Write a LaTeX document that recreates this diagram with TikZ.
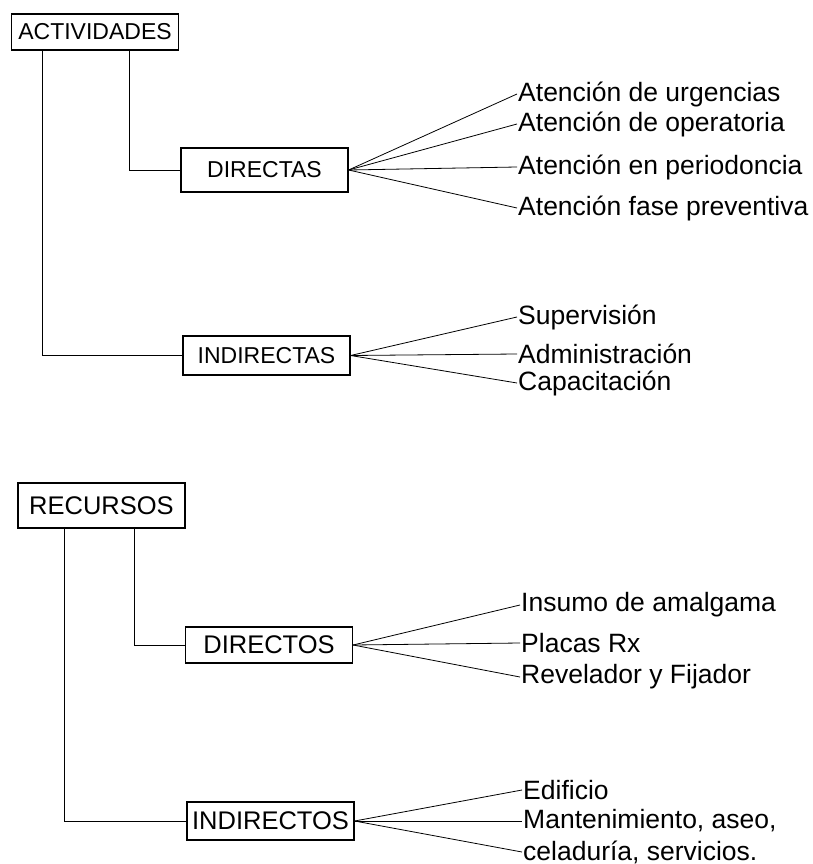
\documentclass[tikz,border=0pt]{standalone}
\usepackage{fontspec}
\setmainfont{Liberation Sans}
\usetikzlibrary{positioning}

\begin{document}
\begin{tikzpicture}[x=1pt,y=-1pt,
    caja/.style={draw,line width=1.2pt,minimum width=167pt,minimum height=40pt,inner sep=2pt,font=\fontsize{23}{27}\selectfont},
    cajag/.style={caja,font=\fontsize{25.5}{30}\selectfont},
    item/.style={anchor=west,inner sep=1pt,font=\fontsize{26.5}{31}\selectfont},
    rama/.style={line width=.8pt}]
    \useasboundingbox (0,0) rectangle (812,864);

    % actividades
    \node[caja,minimum height=36pt] (act) at (95,32) {ACTIVIDADES};
    \node[caja,minimum height=44pt] (dir) at (264.5,170) {DIRECTAS};
    \node[caja,minimum height=39pt] (indir) at (266.5,355.5) {INDIRECTAS};

    \node[item] (urg) at (517,94) {Atención de urgencias};
    \node[item] (oper) at (517,124) {Atención de operatoria};
    \node[item] (perio) at (517,167) {Atención en periodoncia};
    \node[item] (prev) at (517,208) {Atención fase preventiva};
    \node[item] (sup) at (517,317) {Supervisión};
    \node[item] (adm) at (517,354) {Administración};
    \node[item] (cap) at (517,383) {Capacitación};

    \draw[rama] ([xshift=31pt]act.south west) |- (indir.west);
    \draw[rama] ([xshift=118pt]act.south west) |- (dir.west);

    \draw[rama] (dir.east) -- (urg.west);
    \draw[rama] (dir.east) -- (oper.west);
    \draw[rama] (dir.east) -- (perio.west);
    \draw[rama] (dir.east) -- (prev.west);
    \draw[rama] (indir.east) -- (sup.west);
    \draw[rama] (indir.east) -- (adm.west);
    \draw[rama] (indir.east) -- (cap.west);

    % recursos
    \node[cajag,minimum height=45pt] (rec) at (101.5,505.5) {RECURSOS};
    \node[cajag,minimum height=36pt] (dto) at (269,645) {DIRECTOS};
    \node[cajag,minimum height=38pt] (indto) at (270.5,821) {INDIRECTOS};

    \node[item] (ins) at (520,605) {Insumo de amalgama};
    \node[item] (plac) at (520,643) {Placas Rx};
    \node[item] (rev) at (520,677) {Revelador y Fijador};
    \node[item] (edif) at (522,790) {Edificio};
    \node[item] (mant) at (522,821) {Mantenimiento, aseo,};
    \node[item] (cel) at (522,852) {celaduría, servicios.};

    \draw[rama] ([xshift=47pt]rec.south west) |- (indto.west);
    \draw[rama] ([xshift=117pt]rec.south west) |- (dto.west);

    \draw[rama] (dto.east) -- (ins.west);
    \draw[rama] (dto.east) -- (plac.west);
    \draw[rama] (dto.east) -- (rev.west);
    \draw[rama] (indto.east) -- (edif.west);
    \draw[rama] (indto.east) -- (mant.west);
    \draw[rama] (indto.east) -- (cel.west);
\end{tikzpicture}
\end{document}
